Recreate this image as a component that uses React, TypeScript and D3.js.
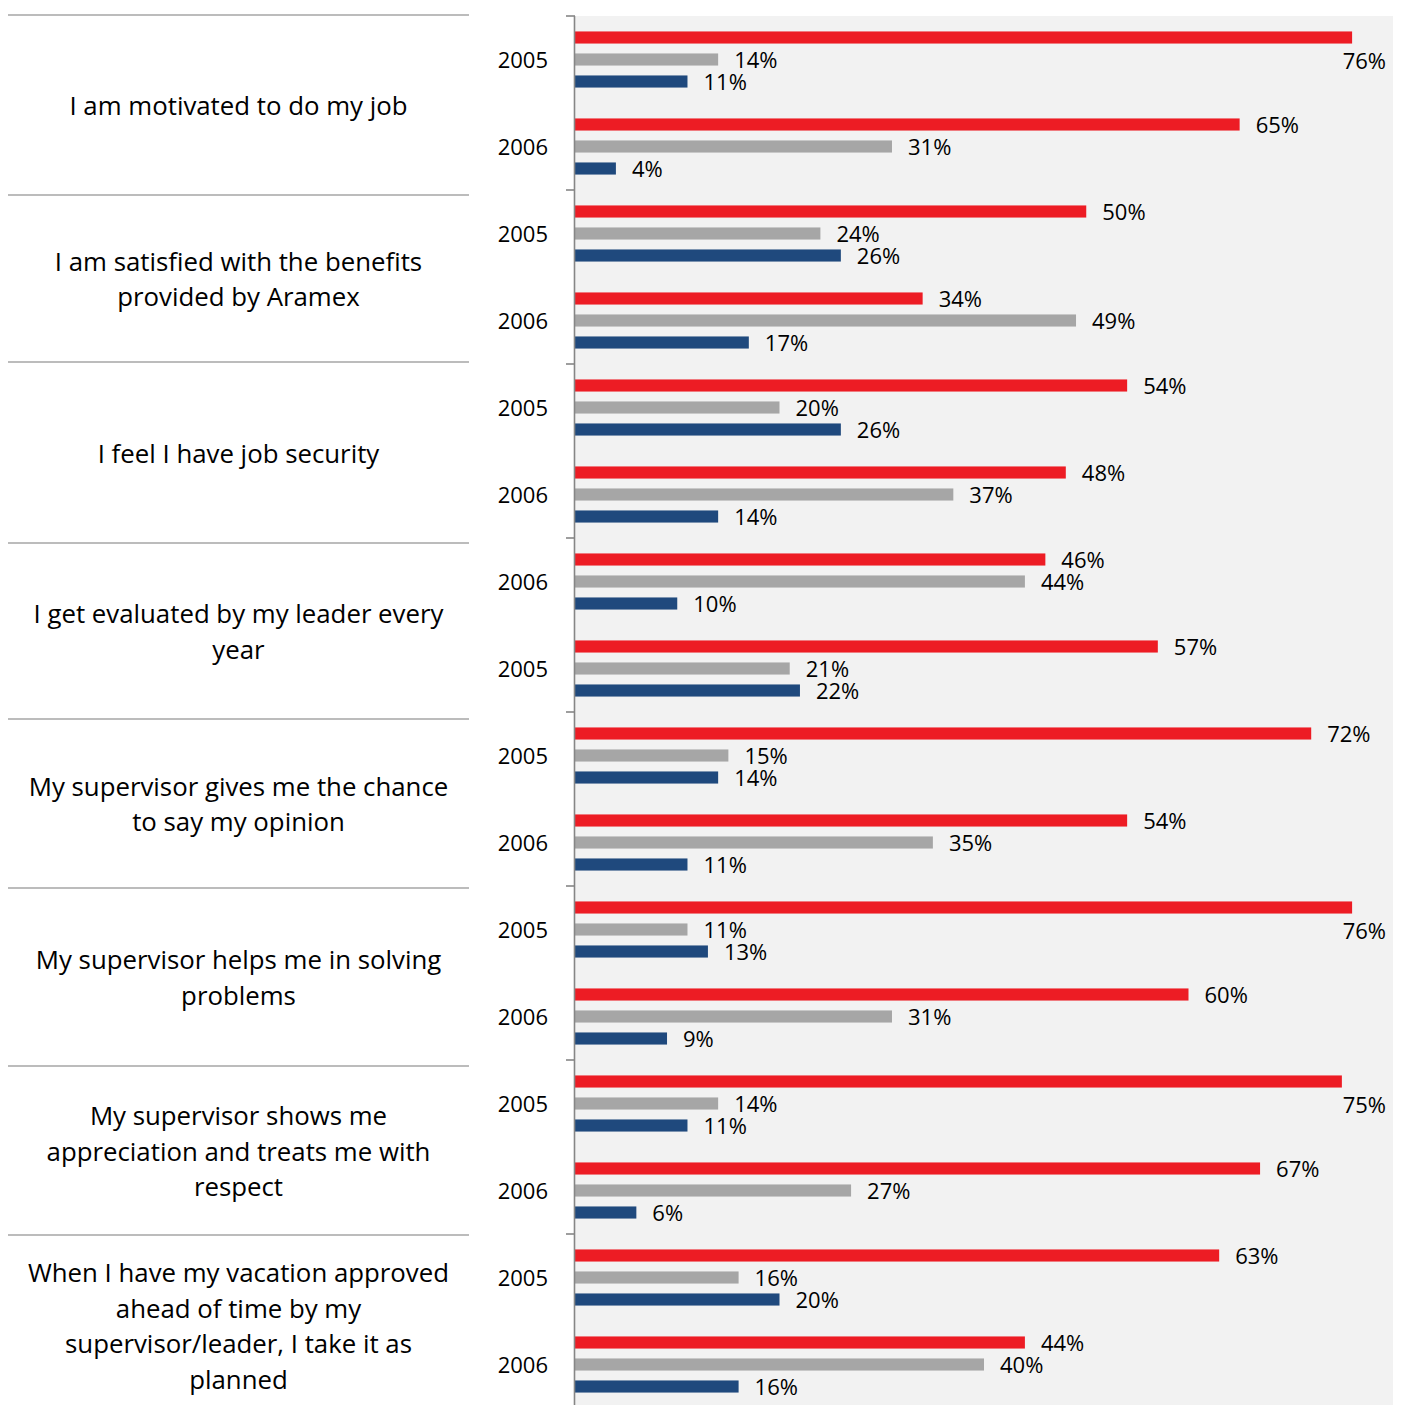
import React from "react";
import * as d3 from "d3";

// ---------- data ----------
const categoryLines: string[][] = [
  ["I am motivated to do my job"],
  ["I am satisfied with the benefits", "provided by Aramex"],
  ["I feel I have job security"],
  ["I get evaluated by my leader every", "year"],
  ["My supervisor gives me the chance", "to say my opinion"],
  ["My supervisor helps me in solving", "problems"],
  ["My supervisor shows me", "appreciation and treats me with", "respect"],
  ["When I have my vacation approved", "ahead of time by my", "supervisor/leader, I take it as", "planned"],
];

const yearLabels = [
  "2005", "2006", "2005", "2006", "2005", "2006", "2006", "2005",
  "2005", "2006", "2005", "2006", "2005", "2006", "2005", "2006",
];

const agreeValues = [76, 65, 50, 34, 54, 48, 46, 57, 72, 54, 76, 60, 75, 67, 63, 44];
const neutralValues = [14, 31, 24, 49, 20, 37, 44, 21, 15, 35, 11, 31, 14, 27, 16, 40];
const disagreeValues = [11, 4, 26, 17, 26, 14, 10, 22, 14, 11, 13, 9, 11, 6, 20, 16];

const seriesNames = ["agree", "neutral", "disagree"];

// ---------- layout ----------
const W = 1402;
const H = 1405;
const plotLeft = 575;
const plotRight = 1393;
const plotTop = 16;
const slotH = 87;
const tableLeft = 8;
const tableRight = 469;
const tableTop = 15;
const tableRowHeights = [180, 167, 181, 176, 169, 178, 169, 181];
const FONT = "'Open Sans', sans-serif";
const FS = 22;
const CAT_FS = 25.8;
const lineH = 35.7;

const colors: Record<string, string> = {
  agree: "#ED1C24",
  neutral: "#A6A6A6",
  disagree: "#1F497D",
};

const seriesValues: Record<string, number[]> = {
  agree: agreeValues,
  neutral: neutralValues,
  disagree: disagreeValues,
};

function textWidth(s: string) {
  let w = 0;
  for (const ch of s) w += ch === "%" ? 0.84 : 0.572;
  return w * FS;
}

export default function App() {
  const slots = d3.range(yearLabels.length);
  const x = d3.scaleLinear().domain([0, 80]).range([plotLeft, plotRight]);
  const y = d3
    .scaleBand<number>()
    .domain(slots)
    .range([plotTop, plotTop + slots.length * slotH]);
  const inner = d3
    .scaleBand<string>()
    .domain(seriesNames)
    .range([0, y.bandwidth()])
    .paddingInner(0.45)
    .paddingOuter(0.702);

  const catTicks = d3.range(0, slots.length, 2).map((i) => y(i) as number);

  const rowEdges: number[] = [tableTop];
  tableRowHeights.forEach((h) => rowEdges.push(rowEdges[rowEdges.length - 1] + h));

  return (
    <svg width={W} height={H} style={{ display: "block", position: "absolute", left: 0, top: 0 }}>
      <rect x={0} y={0} width={W} height={H} fill="#ffffff" />
      {/* left table */}
      {rowEdges.slice(0, tableRowHeights.length).map((ry, i) => (
        <line key={"tl" + i} x1={tableLeft} x2={tableRight} y1={ry} y2={ry} stroke="#A6A6A6" strokeWidth={1.7} />
      ))}
      {categoryLines.map((lines, i) => {
        const cy = (rowEdges[i] + rowEdges[i + 1]) / 2 + 1;
        const startY = cy - ((lines.length - 1) * lineH) / 2;
        return (
          <text key={"cat" + i} fontFamily={FONT} fontSize={CAT_FS} fill="#000" textAnchor="middle">
            {lines.map((l, j) => (
              <tspan key={j} x={(tableLeft + tableRight) / 2} y={startY + j * lineH} dy="0.35em">
                {l}
              </tspan>
            ))}
          </text>
        );
      })}

      {/* plot background */}
      <rect x={plotLeft} y={plotTop} width={plotRight - plotLeft} height={H - plotTop} fill="#F2F2F2" />

      {/* bars */}
      {slots.map((s) =>
        seriesNames.map((name) => {
          const v = seriesValues[name][s];
          const by = (y(s) as number) + (inner(name) as number);
          return (
            <rect
              key={"b" + s + name}
              x={x(0)}
              y={by}
              width={x(v) - x(0)}
              height={inner.bandwidth()}
              fill={colors[name]}
            />
          );
        })
      )}

      {/* value labels */}
      {slots.map((s) =>
        seriesNames.map((name) => {
          const v = seriesValues[name][s];
          const label = v + "%";
          const cy = (y(s) as number) + (inner(name) as number) + inner.bandwidth() / 2 + 1;
          const lx = x(v) + 16;
          const overflow = lx + textWidth(label) > plotRight - 4;
          return (
            <text
              key={"l" + s + name}
              x={overflow ? plotRight - 7 : lx}
              y={overflow ? cy + 23 : cy}
              dy="0.35em"
              textAnchor={overflow ? "end" : "start"}
              fontFamily={FONT}
              fontSize={FS}
              fill="#000"
            >
              {label}
            </text>
          );
        })
      )}

      {/* axis */}
      <line x1={plotLeft - 0.5} x2={plotLeft - 0.5} y1={plotTop} y2={H} stroke="#868686" strokeWidth={1.6} />
      {catTicks.map((t, i) => (
        <line key={"t" + i} x1={plotLeft - 9} x2={plotLeft} y1={t} y2={t} stroke="#868686" strokeWidth={1.6} />
      ))}
      {slots.map((s) => (
        <text
          key={"y" + s}
          x={548}
          y={(y(s) as number) + y.bandwidth() / 2 + 0.5}
          dy="0.35em"
          textAnchor="end"
          fontFamily={FONT}
          fontSize={FS}
          fill="#000"
        >
          {yearLabels[s]}
        </text>
      ))}
    </svg>
  );
}
